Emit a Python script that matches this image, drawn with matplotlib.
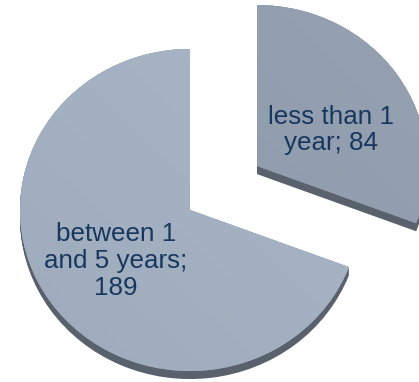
import numpy as np
import matplotlib
matplotlib.use("Agg")
import matplotlib.pyplot as plt
from matplotlib.colors import LinearSegmentedColormap
from matplotlib.patches import Wedge

plt.rcParams["font.family"] = ["Liberation Sans", "DejaVu Sans"]

# data
labels = ["less than 1\nyear; 84", "between 1\nand 5 years;\n189"]
values = [84, 189]
explode = [0.48, 0.0]

# style
top_cols = [("#8c99aa", "#96a2b2"), ("#9dabbc", "#a9b6c6")]
side_col = "#59616d"
text_col = "#17375e"
label_pos = [(0.829, 0.497), (-0.435, -0.317)]
depth = 0.05

fig = plt.figure(figsize=(4.19, 3.82), dpi=100)
ax = fig.add_axes([0, 0, 1, 1])

wedges, _ = ax.pie(values, startangle=90, counterclock=False, explode=explode,
                   radius=1.0, wedgeprops=dict(linewidth=0))

gx, gy = np.meshgrid(np.linspace(0, 1, 200), np.linspace(0, 1, 200))
grad = (gx + (1 - gy)) / 2.0

for i, w in enumerate(wedges):
    w.set_facecolor(top_cols[i][1])
    w.set_zorder(3)
    # extruded side of the 3D pie
    cx, cy = w.center
    for k in np.linspace(0, depth, 10):
        side = Wedge((cx, cy - k), w.r, w.theta1, w.theta2, facecolor=side_col,
                     edgecolor="none", zorder=2)
        ax.add_patch(side)
    cmap = LinearSegmentedColormap.from_list("g%d" % i, list(top_cols[i]))
    im = ax.imshow(grad, cmap=cmap, extent=(cx - 1, cx + 1, cy - 1, cy + 1),
                   origin="upper", zorder=4, interpolation="bilinear")
    im.set_clip_path(w)

for i, lab in enumerate(labels):
    ax.text(label_pos[i][0], label_pos[i][1], lab, ha="center", va="center",
            multialignment="center", fontsize=18.7, color=text_col,
            linespacing=1.15, zorder=5)

# slightly tilted pie: horizontal and vertical pixel scales differ
sx, sy = 170.0, 161.0
ax.set_xlim(-190 / sx, (419 - 190) / sx)
ax.set_ylim(-(382 - 210) / sy, 210 / sy)
ax.set_aspect("auto")
ax.axis("off")

fig.savefig("out.png", dpi=100)
